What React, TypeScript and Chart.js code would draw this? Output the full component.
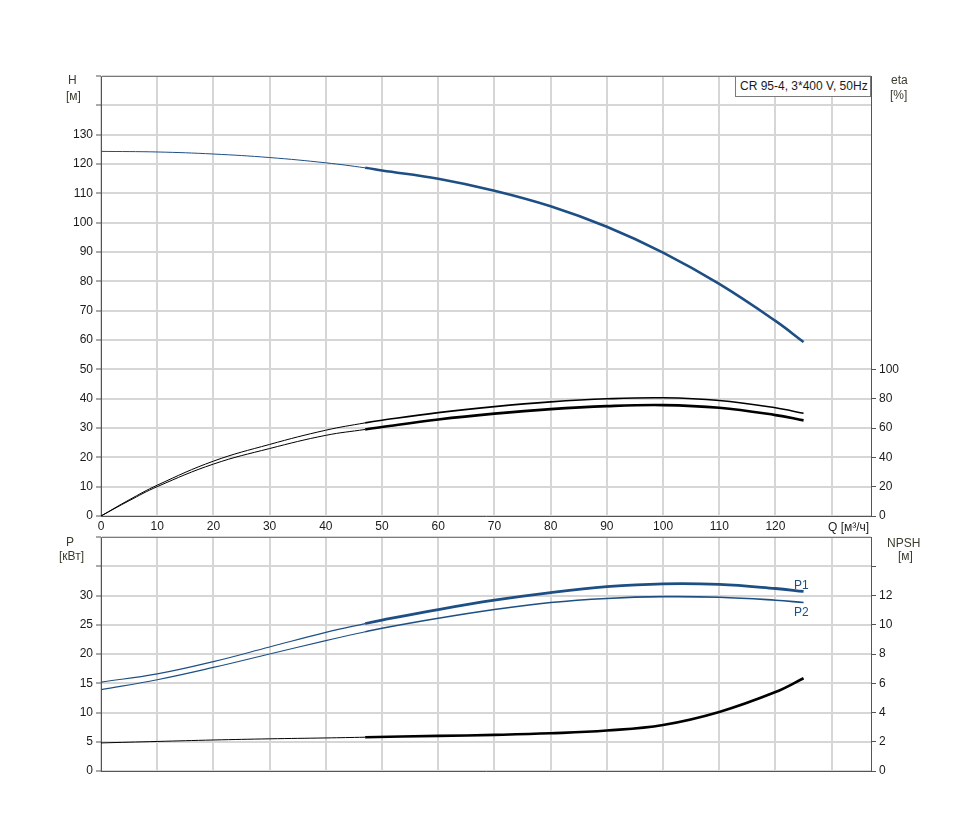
import React, { useEffect, useRef } from 'react';
import { Chart, registerables } from 'chart.js';
Chart.register(...registerables);

// ---------- data ----------
const qH = [0, 10, 20, 30, 40, 47, 50, 60, 70, 80, 90, 100, 110, 120, 125];
const hValues = [124.3, 124.1, 123.4, 122.2, 120.4, 118.7, 117.8, 115.0, 110.9, 105.6, 98.6, 89.8, 79.1, 66.5, 59.3];

const qEta = [0, 5, 10, 20, 30, 40, 47, 50, 60, 70, 80, 90, 100, 110, 120, 125];
const etaUpper = [0, 11, 21, 37.4, 48.8, 58.5, 63.5, 65.3, 70.5, 74.6, 77.8, 79.9, 80.6, 78.8, 73.8, 70];
const etaLower = [0, 10.4, 20, 35.4, 46, 55, 59, 60.7, 65.8, 69.8, 72.9, 74.9, 75.6, 73.8, 68.8, 65.2];

const qP = [0, 10, 20, 30, 40, 47, 50, 60, 70, 80, 90, 100, 110, 120, 125];
const p1Values = [15.2, 16.6, 18.7, 21.2, 23.7, 25.2, 25.8, 27.6, 29.2, 30.5, 31.5, 32.0, 31.9, 31.2, 30.7];
const p2Values = [13.9, 15.6, 17.7, 20.0, 22.3, 23.8, 24.4, 26.1, 27.6, 28.8, 29.5, 29.8, 29.7, 29.2, 28.8];

const qNpsh = [0, 10, 20, 30, 40, 47, 60, 70, 80, 90, 100, 110, 120, 125];
const npshValues = [1.92, 2.02, 2.12, 2.2, 2.26, 2.31, 2.4, 2.47, 2.58, 2.77, 3.15, 4.04, 5.4, 6.34];

const qTicks = [0, 10, 20, 30, 40, 50, 60, 70, 80, 90, 100, 110, 120, 130];
const hTicks = [0, 10, 20, 30, 40, 50, 60, 70, 80, 90, 100, 110, 120, 130, 140, 150];
const etaTicks = [0, 20, 40, 60, 80, 100];
const pTicks = [0, 5, 10, 15, 20, 25, 30, 35, 40];
const npshTicks = [0, 2, 4, 6, 8, 10, 12, 14];

const title = 'CR 95-4, 3*400 V, 50Hz';

// ---------- styling ----------
const BLUE = '#1d4f85';
const BLACK = '#000000';
const GRID = '#d6d6d6';
const AXIS = '#555555';
const FONT = "'Liberation Sans', Arial, sans-serif";
const TICK_COLOR = '#1a1a1a';
const THICK_FROM = 47;

const pts = (xs: number[], ys: number[]) => xs.map((x, i) => ({ x, y: ys[i] }));

const seg = (thin: number, thick: number) => ({
  borderWidth: (ctx: any) => (ctx.p0.parsed.x >= THICK_FROM - 0.01 ? thick : thin),
});

const ds = (label: string, data: any[], color: string, axis: string, thin: number, thick: number) => ({
  label,
  data,
  borderColor: color,
  backgroundColor: color,
  borderWidth: thick,
  pointRadius: 0,
  tension: 0.4,
  yAxisID: axis,
  segment: seg(thin, thick),
  borderCapStyle: 'butt' as const,
});

const setTicks = (vals: number[]) => (scale: any) => {
  scale.ticks = vals.map((v) => ({ value: v }));
};

const frame = {
  id: 'frame',
  afterDraw(chart: any) {
    const { ctx, chartArea } = chart;
    ctx.save();
    ctx.strokeStyle = '#7a7a7a';
    ctx.lineWidth = 1;
    ctx.beginPath();
    ctx.moveTo(chartArea.left, chartArea.top + 0.5);
    ctx.lineTo(chartArea.right, chartArea.top + 0.5);
    ctx.stroke();
    ctx.restore();
  },
};

function makeOptions(kind: 'top' | 'bottom', topPad: number, xHeight: number): any {
  const isTop = kind === 'top';
  return {
    responsive: false,
    animation: false,
    maintainAspectRatio: false,
    layout: { padding: { top: topPad, left: 0, right: 0, bottom: 0 } },
    plugins: { legend: { display: false }, tooltip: { enabled: false } },
    scales: {
      x: {
        type: 'linear',
        min: 0,
        max: 137,
        afterBuildTicks: setTicks(qTicks),
        afterFit: (s: any) => {
          s.height = xHeight;
        },
        ticks: {
          display: isTop,
          autoSkip: false,
          maxRotation: 0,
          padding: 3,
          color: TICK_COLOR,
          font: { family: FONT, size: 12 },
          callback: (v: any) => (v <= 120 ? String(v) : ''),
        },
        grid: { color: GRID, lineWidth: 2, tickLength: 0, drawTicks: false },
        border: { display: true, color: AXIS, width: 1 },
      },
      y: {
        type: 'linear',
        position: 'left',
        min: 0,
        max: isTop ? 150 : 40,
        afterBuildTicks: setTicks(isTop ? hTicks : pTicks),
        afterFit: (s: any) => {
          s.width = 101;
        },
        ticks: {
          autoSkip: false,
          padding: 3,
          color: TICK_COLOR,
          font: { family: FONT, size: 12 },
          callback: (v: any) => (v <= (isTop ? 130 : 30) ? String(v) : ''),
        },
        grid: { color: GRID, lineWidth: 2, tickLength: 5, tickColor: AXIS, tickWidth: 1 },
        border: { display: true, color: AXIS, width: 1 },
      },
      y2: {
        type: 'linear',
        position: 'right',
        min: 0,
        max: isTop ? 300 : 16,
        afterBuildTicks: setTicks(isTop ? etaTicks : npshTicks),
        afterFit: (s: any) => {
          s.width = 89;
        },
        ticks: {
          autoSkip: false,
          padding: 3,
          color: TICK_COLOR,
          font: { family: FONT, size: 12 },
          callback: (v: any) => (v <= (isTop ? 100 : 12) ? String(v) : ''),
        },
        grid: { drawOnChartArea: false, tickLength: 5, tickColor: AXIS, tickWidth: 1 },
        border: { display: true, color: AXIS, width: 1 },
      },
    },
  };
}

function ChartCanvas({ kind, top, height, pad, xHeight }: { kind: 'top' | 'bottom'; top: number; height: number; pad: number; xHeight: number }) {
  const ref = useRef<HTMLCanvasElement | null>(null);
  useEffect(() => {
    if (!ref.current) return;
    const datasets =
      kind === 'top'
        ? [
            ds('eta upper', pts(qEta, etaUpper), BLACK, 'y2', 1, 1.6),
            ds('eta', pts(qEta, etaLower), BLACK, 'y2', 1, 2.6),
            ds('H', pts(qH, hValues), BLUE, 'y', 1, 2.6),
          ]
        : [
            ds('P2', pts(qP, p2Values), BLUE, 'y', 1.2, 1.6),
            ds('P1', pts(qP, p1Values), BLUE, 'y', 1.2, 2.8),
            ds('NPSH', pts(qNpsh, npshValues), BLACK, 'y2', 1, 2.6),
          ];
    const chart = new Chart(ref.current, {
      type: 'line',
      data: { datasets },
      options: makeOptions(kind, pad, xHeight),
      plugins: [frame],
    });
    return () => chart.destroy();
  }, [kind]);
  return (
    <canvas
      ref={ref}
      width={960}
      height={height}
      style={{ position: 'absolute', left: 0, top, width: 960, height }}
    />
  );
}

const txt = (s: string, left: number, top: number, extra: React.CSSProperties = {}) => (
  <div
    style={{
      position: 'absolute',
      left,
      top,
      fontFamily: FONT,
      fontSize: 12,
      lineHeight: '14px',
      color: '#3b3b2e',
      whiteSpace: 'nowrap',
      ...extra,
    }}
  >
    {s}
  </div>
);

export default function App() {
  return (
    <div
      style={{
        position: 'absolute',
        left: 0,
        top: 0,
        width: 960,
        height: 819,
        background: '#ffffff',
        overflow: 'hidden',
      }}
    >
      <ChartCanvas kind="top" top={0} height={536} pad={76} xHeight={20} />
      <ChartCanvas kind="bottom" top={521} height={298} pad={16} xHeight={48} />
      {txt('H', 68, 73)}
      {txt('[м]', 66, 89)}
      {txt('eta', 891, 73)}
      {txt('[%]', 890, 88)}
      {txt('P', 66, 535)}
      {txt('[кВт]', 59, 549)}
      {txt('NPSH', 887, 536)}
      {txt('[м]', 898, 549)}
      {txt('Q [м³/ч]', 828, 520, { color: TICK_COLOR })}
      {txt('P1', 794, 578, { color: BLUE })}
      {txt('P2', 794, 605, { color: BLUE })}
      <div
        style={{
          position: 'absolute',
          left: 735,
          top: 76,
          width: 136,
          height: 21,
          boxSizing: 'border-box',
          border: '1px solid #7a7a7a',
          background: '#ffffff',
          fontFamily: FONT,
          fontSize: 12,
          lineHeight: '19px',
          paddingLeft: 4,
          color: '#1a1a1a',
          whiteSpace: 'nowrap',
        }}
      >
        {title}
      </div>
    </div>
  );
}
